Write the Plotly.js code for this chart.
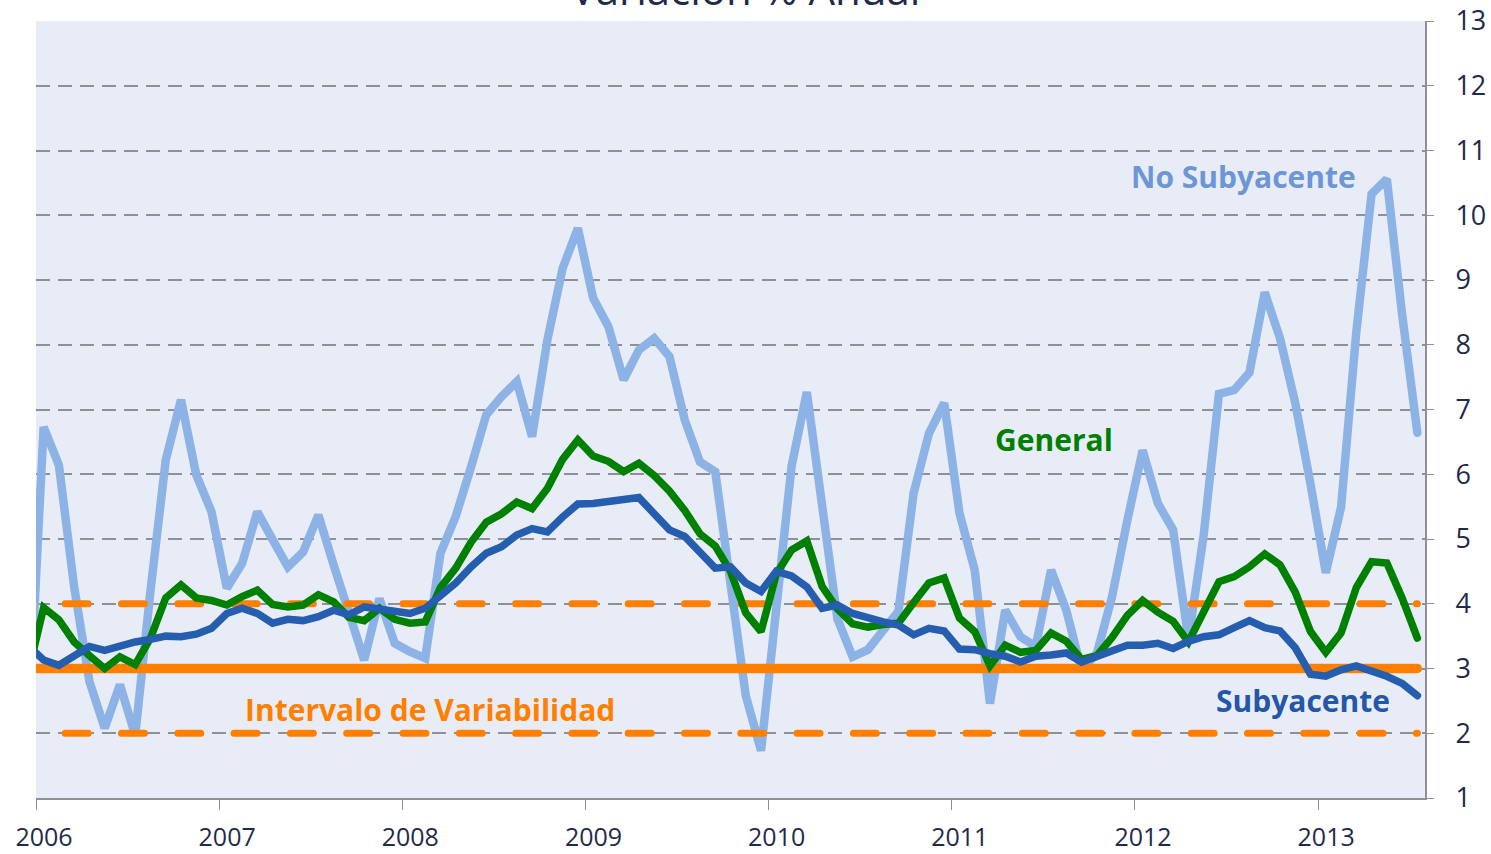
<!DOCTYPE html>
<html>
<head>
<meta charset="utf-8">
<script src="https://cdn.plot.ly/plotly-3.0.1.min.js"></script>
<style>
html,body{margin:0;padding:0;background:#ffffff;}
#chart{width:1491px;height:854px;}
#chart .scatterlayer .js-line{stroke-linecap:round;}
</style>
</head>
<body>
<div id="chart"></div>
<script>
// Monthly series, Dec 2005 .. Jul 2013 (annual % change)
const yearLabels = ['2006','2007','2008','2009','2010','2011','2012','2013'];

const general = [
  2.95,
  3.94,3.75,3.41,3.20,3.00,3.18,3.06,3.47,4.09,4.29,4.09,4.05,
  3.98,4.11,4.21,3.99,3.95,3.98,4.14,4.03,3.79,3.74,3.93,3.76,
  3.70,3.72,4.25,4.55,4.95,5.26,5.39,5.57,5.47,5.78,6.23,6.53,
  6.28,6.20,6.04,6.17,5.98,5.74,5.44,5.08,4.89,4.50,3.86,3.57,
  4.46,4.83,4.97,4.27,3.92,3.69,3.64,3.68,3.70,4.02,4.32,4.40,
  3.78,3.57,3.04,3.36,3.25,3.28,3.55,3.42,3.14,3.20,3.48,3.82,
  4.05,3.87,3.73,3.41,3.85,4.34,4.42,4.57,4.77,4.60,4.18,3.57,
  3.25,3.55,4.25,4.65,4.63,4.09,3.47
];

const subyacente = [
  3.35,
  3.13,3.05,3.18,3.34,3.28,3.36,3.41,3.45,3.50,3.49,3.53,3.62,
  3.85,3.93,3.85,3.70,3.76,3.74,3.80,3.90,3.83,3.95,3.91,3.89,
  3.85,3.93,4.11,4.32,4.57,4.78,4.88,5.06,5.16,5.11,5.34,5.54,
  5.55,5.59,5.61,5.64,5.37,5.14,5.04,4.78,4.55,4.57,4.32,4.19,
  4.50,4.43,4.26,3.93,3.98,3.85,3.78,3.72,3.67,3.52,3.62,3.58,
  3.30,3.29,3.23,3.19,3.10,3.19,3.21,3.24,3.10,3.18,3.29,3.36,
  3.36,3.39,3.31,3.42,3.49,3.52,3.63,3.74,3.63,3.58,3.32,2.91,
  2.88,2.98,3.04,2.97,2.88,2.77,2.58
];

const noSubyacente = [
  2.07,
  6.73,6.14,4.26,2.80,2.08,2.75,1.97,4.20,6.22,7.15,5.99,5.42,
  4.24,4.62,5.42,4.99,4.57,4.80,5.37,4.60,3.85,3.13,4.08,3.39,
  3.26,3.16,4.78,5.35,6.11,6.92,7.20,7.43,6.58,8.07,9.18,9.80,
  8.72,8.28,7.46,7.92,8.10,7.82,6.84,6.19,6.04,4.30,2.58,1.73,
  4.00,6.12,7.27,5.40,3.77,3.18,3.29,3.59,3.88,5.71,6.63,7.10,
  5.40,4.52,2.46,3.90,3.49,3.34,4.52,3.90,2.98,3.23,4.11,5.29,
  6.37,5.55,5.14,3.45,5.06,7.24,7.30,7.57,8.81,8.10,7.10,5.85,
  4.48,5.49,8.20,10.33,10.56,8.47,6.64
];

const metaInflacion = 3;
const limiteInferior = 2;
const limiteSuperior = 4;

// month index (centre of each month), first value is Dec 2005
const xMonths = general.map((_, i) => i - 0.5);
const xSpan = [xMonths[0], xMonths[xMonths.length - 1]];
const yearTicks = yearLabels.map((_, i) => i * 12);

const C_NOSUB = '#8DB3E6';
const C_GEN = '#008000';
const C_SUB = '#255DAF';
const C_ORANGE = '#FF7F00';
const C_TEXT = '#1F2B4A';
const C_GRID = '#8E9097';

const traces = [
  {x: xMonths, y: noSubyacente, mode: 'lines', name: 'No Subyacente',
   line: {color: C_NOSUB, width: 8.5}, hoverinfo: 'skip'},
  {x: xSpan, y: [limiteInferior, limiteInferior], mode: 'lines', name: 'lim inf',
   line: {color: C_ORANGE, width: 7, dash: '23px,33.3px'}, hoverinfo: 'skip'},
  {x: xSpan, y: [limiteSuperior, limiteSuperior], mode: 'lines', name: 'lim sup',
   line: {color: C_ORANGE, width: 7, dash: '23px,33.3px'}, hoverinfo: 'skip'},
  {x: xSpan, y: [metaInflacion, metaInflacion], mode: 'lines', name: 'meta',
   line: {color: C_ORANGE, width: 9.5}, hoverinfo: 'skip'},
  {x: xMonths, y: general, mode: 'lines', name: 'General',
   line: {color: C_GEN, width: 7.5}, hoverinfo: 'skip'},
  {x: xMonths, y: subyacente, mode: 'lines', name: 'Subyacente',
   line: {color: C_SUB, width: 7.5}, hoverinfo: 'skip'}
];

const labelFont = (c) => ({family: 'Open Sans', size: 30, color: c, weight: 'bold'});

const layout = {
  width: 1491, height: 854,
  margin: {l: 36, r: 66, t: 21, b: 56},
  paper_bgcolor: '#ffffff',
  plot_bgcolor: '#E8ECF7',
  showlegend: false,
  title: {
    text: 'Variación % Anual',
    font: {family: 'Open Sans', size: 42, color: C_TEXT},
    xref: 'container', x: 0.5, xanchor: 'center',
    yref: 'container', y: 1 - 5 / 854, yanchor: 'bottom'
  },
  xaxis: {
    range: [0, 91], showgrid: false, zeroline: false,
    showline: true, linecolor: C_GRID, linewidth: 2,
    tickmode: 'array', tickvals: yearTicks, ticktext: yearLabels,
    ticks: 'outside', ticklen: 10, tickwidth: 1, tickcolor: C_GRID,
    ticklabelshift: 8, ticklabelstandoff: 6,
    tickfont: {family: 'Open Sans', size: 25, color: C_TEXT},
    fixedrange: true
  },
  yaxis: {
    side: 'right', range: [1, 13], dtick: 1, tick0: 1,
    showgrid: true, gridcolor: C_GRID, gridwidth: 2, griddash: '14px,8px',
    zeroline: false, showline: true, linecolor: C_GRID, linewidth: 2,
    ticks: 'outside', ticklen: 7, tickwidth: 1, tickcolor: C_GRID,
    ticklabelstandoff: 16,
    tickfont: {family: 'Open Sans', size: 27, color: C_TEXT},
    fixedrange: true
  },
  annotations: [
    {text: 'No Subyacente', x: 79.1, y: 10.6, xref: 'x', yref: 'y', showarrow: false,
     font: labelFont('#6C96D6')},
    {text: 'General', x: 66.7, y: 6.53, xref: 'x', yref: 'y', showarrow: false,
     font: labelFont(C_GEN)},
    {text: 'Subyacente', x: 83.0, y: 2.51, xref: 'x', yref: 'y', showarrow: false,
     font: labelFont('#2457A8')},
    {text: 'Intervalo de Variabilidad', x: 25.8, y: 2.37, xref: 'x', yref: 'y', showarrow: false,
     font: labelFont(C_ORANGE)}
  ]
};

Plotly.newPlot('chart', traces, layout, {displayModeBar: false, staticPlot: true}).then(function () {
  const tr = document.querySelectorAll('#chart .scatterlayer .trace');
  [1, 2].forEach(function (k) {
    const p = tr[k] && tr[k].querySelector('path.js-line');
    if (p) p.style.strokeDashoffset = '19.5px';
  });
});
</script>
</body>
</html>
